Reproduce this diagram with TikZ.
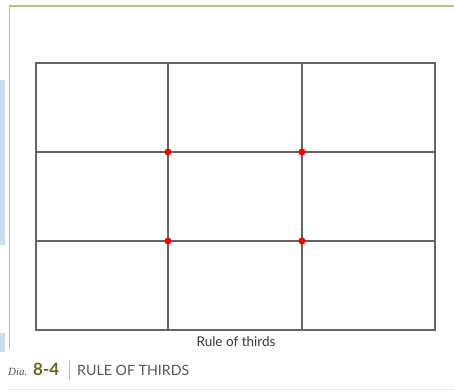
\documentclass[tikz,border=0pt]{standalone}
\usepackage{fontspec}
\setmainfont{Lato}
\newfontfamily\serifit{Liberation Serif}
\definecolor{olivel}{RGB}{195,190,130}
\definecolor{oliveD}{RGB}{110,100,25}
\definecolor{gridc}{RGB}{100,100,100}
\definecolor{paleblue}{RGB}{205,220,237}
\definecolor{capgray}{RGB}{85,85,85}
\begin{document}
\begin{tikzpicture}[x=1pt,y=-1pt,
  gridline/.style={draw=gridc,line width=1.1pt},
  dot/.style={circle,fill=red,inner sep=0pt,minimum size=7pt},
  frameline/.style={draw=olivel,line width=1.4pt}]
\useasboundingbox (0,0) rectangle (454,391);
\fill[paleblue] (0,80) rectangle (5,245);
\fill[paleblue] (0,333) rectangle (5,352);
\draw[frameline] (9.5,349) -- (9.5,6) -- (454,6);
\draw[black!8,line width=0.8pt] (8,389.5) -- (454,389.5);
% grid
\coordinate (tl) at (36,63);
\coordinate (br) at (435,330);
\draw[gridline] (tl) rectangle (br);
\draw[gridline] (168,63) -- (168,330);
\draw[gridline] (302,63) -- (302,330);
\draw[gridline] (36,152) -- (435,152);
\draw[gridline] (36,241) -- (435,241);
\node[dot] (d1) at (168,152) {};
\node[dot] (d2) at (302,152) {};
\node[dot] (d3) at (168,241) {};
\node[dot] (d4) at (302,241) {};
\node[anchor=base,font=\fontsize{13.5}{15}\selectfont,text=black!78,inner sep=0pt] (lbl) at (236,346) {Rule of thirds};
% caption
\node[anchor=base west,inner sep=0pt,font=\serifit\itshape\fontsize{11}{12}\selectfont,text=capgray] (dia) at (8,375.5) {Dia.};
\node[anchor=base west,inner sep=0pt,font=\bfseries\fontsize{17}{19}\selectfont,text=oliveD] (num) at (33,375.5) {8-4};
\draw[olivel,line width=1pt] (69,361) -- (69,380);
\node[anchor=base west,inner sep=0pt,font=\fontsize{14.2}{16}\selectfont,text=capgray] (cap) at (77,375.5) {RULE OF THIRDS};
\end{tikzpicture}
\end{document}
